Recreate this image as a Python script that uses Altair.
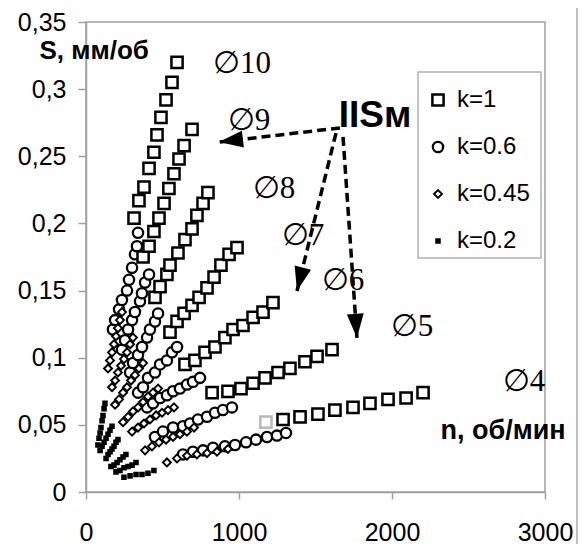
import altair as alt
import pandas as pd

K_LABELS = ["k=1", "k=0.6", "k=0.45", "k=0.2"]
DIAMS = [10, 9, 8, 7, 6, 5, 4]

# k=1 (squares), one list per diameter 10..4
K1_N = [
    [314, 346, 379, 412, 444, 464, 490, 523, 562, 595],
    [373, 412, 444, 477, 510, 542, 575, 608, 641, 693],
    [451, 484, 529, 549, 601, 647, 693, 725, 765, 797],
    [549, 595, 641, 693, 739, 791, 837, 882, 935, 987],
    [647, 712, 778, 843, 908, 961, 1026, 1092, 1157, 1222],
    [824, 928, 1013, 1092, 1170, 1255, 1333, 1431, 1510, 1608],
    [1288, 1399, 1516, 1627, 1745, 1856, 1974, 2092, 2203],
]
K1_S = [
    [0.204, 0.217, 0.227, 0.241, 0.253, 0.266, 0.279, 0.292, 0.305, 0.320],
    [0.175, 0.183, 0.194, 0.204, 0.215, 0.226, 0.237, 0.248, 0.258, 0.270],
    [0.145, 0.153, 0.162, 0.169, 0.178, 0.188, 0.196, 0.206, 0.215, 0.223],
    [0.119, 0.127, 0.133, 0.139, 0.145, 0.152, 0.160, 0.169, 0.177, 0.182],
    [0.095, 0.098, 0.104, 0.108, 0.115, 0.121, 0.124, 0.130, 0.134, 0.141],
    [0.074, 0.075, 0.077, 0.081, 0.085, 0.089, 0.092, 0.097, 0.101, 0.106],
    [0.054, 0.056, 0.058, 0.061, 0.063, 0.066, 0.069, 0.070, 0.074],
]
GRAY_N = [1176]
GRAY_S = [0.052]

# k=0.6 (circles)
K06_N = [
    [176, 190, 216, 235, 268, 281, 301, 320, 333, 340],
    [235, 255, 275, 301, 320, 353, 366, 386, 412],
    [288, 307, 340, 366, 399, 418, 451, 471],
    [340, 373, 405, 451, 484, 529, 562, 595],
    [399, 438, 484, 529, 569, 614, 660, 699, 745],
    [451, 503, 569, 634, 680, 732, 791, 843, 895, 954],
    [634, 699, 765, 830, 908, 974, 1046, 1111, 1183, 1248, 1307],
]
K06_S = [
    [0.121, 0.128, 0.136, 0.143, 0.150, 0.158, 0.167, 0.177, 0.183, 0.193],
    [0.106, 0.113, 0.121, 0.128, 0.134, 0.142, 0.148, 0.156, 0.162],
    [0.089, 0.096, 0.102, 0.108, 0.115, 0.121, 0.127, 0.133],
    [0.074, 0.078, 0.085, 0.089, 0.095, 0.098, 0.104, 0.108],
    [0.063, 0.066, 0.070, 0.072, 0.075, 0.077, 0.080, 0.082, 0.085],
    [0.041, 0.045, 0.048, 0.049, 0.051, 0.054, 0.056, 0.059, 0.061, 0.063],
    [0.028, 0.030, 0.031, 0.033, 0.034, 0.035, 0.037, 0.039, 0.041, 0.042, 0.044],
]

# k=0.45 (diamonds)
K045_N = [
    [144, 157, 170, 183, 196, 209, 222, 235],
    [170, 190, 209, 229, 248, 268, 288, 307],
    [190, 216, 242, 268, 294, 320, 346, 373],
    [242, 275, 307, 340, 373, 405, 438, 471],
    [301, 340, 379, 418, 458, 497, 536, 575],
    [386, 431, 477, 523, 569, 614, 660, 706],
    [529, 595, 660, 725, 791, 856, 928],
]
K045_S = [
    [0.092, 0.098, 0.104, 0.110, 0.116, 0.122, 0.128, 0.134],
    [0.078, 0.083, 0.089, 0.094, 0.099, 0.104, 0.110, 0.115],
    [0.065, 0.069, 0.074, 0.078, 0.083, 0.087, 0.092, 0.096],
    [0.052, 0.056, 0.060, 0.063, 0.067, 0.071, 0.074, 0.077],
    [0.045, 0.048, 0.051, 0.054, 0.057, 0.059, 0.061, 0.063],
    [0.031, 0.034, 0.037, 0.039, 0.041, 0.043, 0.045, 0.048],
    [0.022, 0.025, 0.027, 0.028, 0.029, 0.030, 0.032],
]

# k=0.2 (small dots), diameters 10..5
K02_N = [
    [78, 85, 92, 98, 105, 111, 118, 124],
    [92, 105, 118, 131, 144, 157, 170],
    [131, 144, 157, 170, 183, 196, 209],
    [163, 183, 203, 222, 242, 261],
    [196, 222, 248, 275, 301, 327],
    [248, 288, 327, 366, 405, 444],
]
K02_S = [
    [0.035, 0.040, 0.044, 0.048, 0.053, 0.057, 0.062, 0.066],
    [0.031, 0.034, 0.037, 0.040, 0.043, 0.046, 0.049],
    [0.025, 0.028, 0.030, 0.032, 0.034, 0.037, 0.039],
    [0.019, 0.020, 0.022, 0.024, 0.026, 0.028],
    [0.015, 0.016, 0.018, 0.019, 0.020, 0.022],
    [0.011, 0.012, 0.013, 0.013, 0.014, 0.016],
]

LABEL_TEXT = ["∅10", "∅9", "∅8", "∅7", "∅6", "∅5", "∅4"]
LABEL_N = [1020, 1065, 1229, 1418, 1680, 2131, 2863]
LABEL_S = [0.319, 0.276, 0.226, 0.191, 0.157, 0.123, 0.082]

TITLE_TEXT = ["IISм"]
TITLE_N = [1889]
TITLE_S = [0.280]

ARROW_N0 = [1660, 1634, 1680]
ARROW_S0 = [0.2711, 0.2673, 0.2644]
ARROW_N1 = [869, 1379, 1771]
ARROW_S1 = [0.2606, 0.1497, 0.1147]
ARROW_ANGLE = [263, 194, 176]

rows = []
for lab, NN, SS in [("k=0.2", K02_N, K02_S), ("k=0.6", K06_N, K06_S),
                    ("k=0.45", K045_N, K045_S), ("k=1", K1_N, K1_S)]:
    for d, ns, ss in zip(DIAMS, NN, SS):
        for n, s in zip(ns, ss):
            rows.append({"n": n, "S": s, "k": lab, "d": d})
df = pd.DataFrame(rows)

xscale = alt.Scale(domain=[0, 3000], nice=False)
yscale = alt.Scale(domain=[0, 0.35], nice=False)

AX_GRAY = "#a0a0a0"
x_axis = alt.Axis(values=[0, 1000, 2000, 3000], labelExpr="format(datum.value, 'd')",
                  title="n, об/мин", titleX=354, titleY=-62,
                  titleAlign="left", titleBaseline="middle", titleFontSize=27,
                  titleFontWeight="bold", titleFont="Liberation Sans", titleColor="black",
                  labelFontSize=25, labelFont="Liberation Sans", labelColor="black",
                  tickSize=7, labelPadding=21, domainColor=AX_GRAY, tickColor=AX_GRAY,
                  domainWidth=1.5, tickWidth=1.5, grid=False, labelFlush=False, labelOverlap=False)
y_axis = alt.Axis(values=[0, 0.05, 0.1, 0.15, 0.2, 0.25, 0.3, 0.35],
                  labelExpr="replace(format(datum.value, '.2~f'), '.', ',')",
                  title="S, мм/об", titleAngle=0, titleX=-47, titleY=28, titleAlign="left",
                  titleBaseline="middle", titleFontSize=26, titleFontWeight="bold",
                  titleFont="Liberation Sans", titleColor="black",
                  labelFontSize=25, labelFont="Liberation Sans", labelColor="black",
                  tickSize=8, labelPadding=12, domainColor=AX_GRAY, tickColor=AX_GRAY,
                  domainWidth=1.5, tickWidth=1.5, grid=False, labelFlush=False, labelOverlap=False)

leg = alt.Legend(orient="none", legendX=340, legendY=66, title=None, labelFontSize=24,
                 labelFont="Liberation Sans", labelColor="black", padding=0, rowPadding=23,
                 labelOffset=7)

def oscale(rng):
    return alt.Scale(type="ordinal", domain=K_LABELS, range=rng)

points = alt.Chart(df).mark_point(filled=True, opacity=1).encode(
    x=alt.X("n:Q", scale=xscale, axis=x_axis),
    y=alt.Y("S:Q", scale=yscale, axis=y_axis),
    shape=alt.Shape("k:N", scale=oscale(["square", "circle", "diamond", "square"]), legend=leg),
    size=alt.Size("k:N", scale=oscale([125, 105, 64, 14]), legend=leg),
    fill=alt.Fill("k:N", scale=oscale(["white", "white", "white", "black"]), legend=leg),
    stroke=alt.Stroke("k:N", scale=oscale(["black", "black", "black", "black"]), legend=leg),
    strokeWidth=alt.StrokeWidth("k:N", scale=oscale([2.5, 2.3, 1.9, 1.8]), legend=leg),
)

gray = alt.Chart(pd.DataFrame({"n": GRAY_N, "S": GRAY_S})).mark_point(
    shape="square", size=125, filled=True, fill="white", stroke="#b8b8b8", strokeWidth=2.5, opacity=1
).encode(x=alt.X("n:Q", scale=xscale), y=alt.Y("S:Q", scale=yscale))

labels = alt.Chart(pd.DataFrame({"n": LABEL_N, "S": LABEL_S, "t": LABEL_TEXT})).mark_text(
    font="Liberation Serif", fontSize=31, align="center", baseline="middle", color="black"
).encode(x=alt.X("n:Q", scale=xscale), y=alt.Y("S:Q", scale=yscale), text="t:N")

big = alt.Chart(pd.DataFrame({"n": TITLE_N, "S": TITLE_S, "t": TITLE_TEXT})).mark_text(
    font="Liberation Sans", fontSize=37, fontWeight="bold", align="center", baseline="middle", color="black"
).encode(x=alt.X("n:Q", scale=xscale), y=alt.Y("S:Q", scale=yscale), text="t:N")

arr_df = pd.DataFrame({"n0": ARROW_N0, "s0": ARROW_S0, "n1": ARROW_N1, "s1": ARROW_S1, "a": ARROW_ANGLE})
arrows = alt.Chart(arr_df).mark_rule(color="black", strokeWidth=3.5, strokeDash=[9, 5]).encode(
    x=alt.X("n0:Q", scale=xscale), y=alt.Y("s0:Q", scale=yscale), x2="n1:Q", y2="s1:Q")
heads = alt.Chart(arr_df).mark_point(shape="M0,0L0.7,2L-0.7,2Z", size=580, filled=True,
                                     color="black", opacity=1).encode(
    x=alt.X("n1:Q", scale=xscale), y=alt.Y("s1:Q", scale=yscale), angle=alt.Angle("a:Q", scale=None))

border = alt.Chart(pd.DataFrame({"v": [0]})).mark_rule(color="#a8a8a8", strokeWidth=1.5).encode(
    x=alt.value(491), y=alt.value(-22), y2=alt.value(540))

legend_box = alt.Chart(pd.DataFrame({"v": [0]})).mark_rect(
    fill="white", stroke="#b0b0b0", strokeWidth=1.5).encode(
    x=alt.value(332), x2=alt.value(455), y=alt.value(50), y2=alt.value(236))

chart = alt.layer(border, legend_box, arrows, heads, points, gray, labels, big).properties(
    width=459, height=470,
    autosize=alt.AutoSizeParams(type="none"),
    padding={"left": 78, "top": 14, "right": 34, "bottom": 52},
).configure_view(stroke=AX_GRAY, strokeWidth=1.5)

chart.save("out.html", embed_options={"renderer": "svg", "actions": False})
